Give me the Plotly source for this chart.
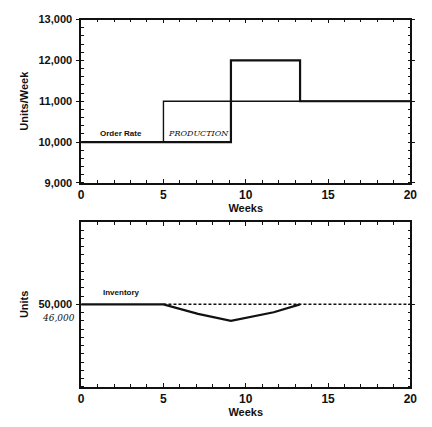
import plotly.graph_objects as go

# Top panel data
order_weeks = [0, 5, 20]
order_rate = [10000, 11000, 11000]
prod_weeks = [0, 9.1, 13.3, 20]
production = [10000, 12000, 11000, 11000]

# Bottom panel data
inv_weeks = [0, 5, 7.1, 9.1, 11.7, 13.3]
inventory = [50000, 50000, 47700, 46000, 48100, 50000]
ref_weeks = [5, 20]
ref_level = [50000, 50000]

x_ticks = [0, 5, 10, 15, 20]
top_y_ticks = [9000, 10000, 11000, 12000, 13000]
bot_y_ticks = [50000]

INK = "#111111"
W, H = 432, 427

fig = go.Figure()
fig.add_trace(go.Scatter(x=order_weeks, y=order_rate, mode="lines", line=dict(color=INK, width=1.4, shape="hv"),
                         xaxis="x", yaxis="y", showlegend=False))
fig.add_trace(go.Scatter(x=prod_weeks, y=production, mode="lines", line=dict(color=INK, width=2.2, shape="hv"),
                         xaxis="x", yaxis="y", showlegend=False))
fig.add_trace(go.Scatter(x=ref_weeks, y=ref_level, mode="lines", line=dict(color=INK, width=1.5, dash="3px,2px"),
                         xaxis="x2", yaxis="y2", showlegend=False))
fig.add_trace(go.Scatter(x=inv_weeks, y=inventory, mode="lines", line=dict(color=INK, width=2.2),
                         xaxis="x2", yaxis="y2", showlegend=False))

tickfont = dict(family="Liberation Sans, Arial", size=11, color=INK, weight="bold")
titlefont = dict(family="Liberation Sans, Arial", size=11, color=INK, weight="bold")

def xaxis(anchor):
    return dict(domain=[80 / W, 417 / W], range=[0, 20], tickvals=x_ticks, anchor=anchor,
                showgrid=False, zeroline=False, showline=True, linecolor=INK, linewidth=1.6,
                mirror="allticks", ticks="inside", ticklen=4, tickcolor=INK, tickwidth=1.2,
                minor=dict(dtick=1, ticks="inside", ticklen=3, tickcolor=INK, tickwidth=1),
                tickfont=dict(tickfont, size=12), ticklabelstandoff=0,
                title=dict(text="Weeks", font=titlefont, standoff=0))

def yaxis(anchor, domain, rng, tickvals, mdt, title):
    return dict(domain=domain, range=rng, tickvals=tickvals, anchor=anchor,
                showgrid=False, zeroline=False, showline=True, linecolor=INK, linewidth=1.6,
                mirror="allticks", ticks="outside", ticklen=3, tickcolor=INK, tickwidth=1.2,
                minor=dict(dtick=mdt, ticks="inside", ticklen=3, tickcolor=INK, tickwidth=1),
                tickformat=",d", tickfont=tickfont, ticklabelstandoff=2,
                title=dict(text=title, font=titlefont, standoff=8))

fig.update_layout(
    width=W, height=H, margin=dict(l=0, r=0, t=0, b=0),
    paper_bgcolor="white", plot_bgcolor="white",
    xaxis=xaxis("y"),
    yaxis=yaxis("x", [1 - 182 / H, 1 - 14 / H], [9000, 13000], top_y_ticks, 200, "Units/Week"),
    xaxis2=xaxis("y2"),
    yaxis2=yaxis("x2", [1 - 392 / H, 1 - 222 / H], [30000, 70000], bot_y_ticks, 2000, "Units"),
    annotations=[
        dict(x=2.4, y=10040, xref="x", yref="y", text="Order Rate", showarrow=False, yanchor="bottom",
             font=dict(family="Liberation Sans, Arial", size=8, color=INK, weight="bold")),
        dict(x=7.1, y=10040, xref="x", yref="y", text="PRODUCTION", showarrow=False, yanchor="bottom",
             font=dict(family="DejaVu Serif", size=8, color=INK, style="italic")),
        dict(x=2.45, y=51200, xref="x2", yref="y2", text="Inventory", showarrow=False, yanchor="bottom",
             font=dict(family="Liberation Sans, Arial", size=8, color=INK, weight="bold")),
        dict(x=57 / W, y=46700, xref="paper", yref="y2", text="46,000", showarrow=False, xanchor="center",
             font=dict(family="DejaVu Serif", size=9, color=INK, style="italic")),
    ],
)

fig.write_html("out.html")
